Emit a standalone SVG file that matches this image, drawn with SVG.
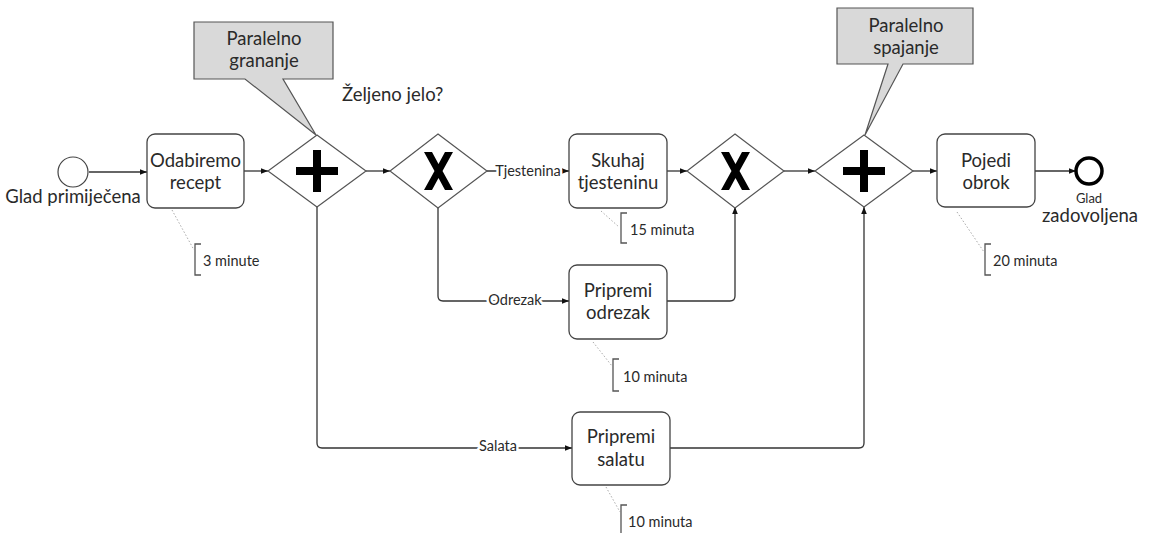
<svg xmlns="http://www.w3.org/2000/svg" width="1149" height="533" viewBox="0 0 1149 533">
<style>
text{font-family:Lato,"Open Sans",sans-serif;fill:#2a2a2a;}
.t{font-size:18.5px;text-anchor:middle;}
.s{font-size:14.5px;}
.lbl{font-size:14.5px;text-anchor:middle;stroke:#fff;stroke-width:5;paint-order:stroke;stroke-linejoin:round;}
.task{fill:#fff;stroke:#444;stroke-width:1.3;}
.gw{fill:#fff;stroke:#555;stroke-width:1.2;}
.mk{fill:#000;stroke:none;}
.call{fill:#d9d9d9;stroke:#555;stroke-width:1.2;}
.flow{fill:none;stroke:#333;stroke-width:1.3;}
.assoc{fill:none;stroke:#aaa;stroke-width:1;stroke-dasharray:1.5 2;}
.br{fill:none;stroke:#555;stroke-width:1.3;}
</style>
<defs>
<marker id="arr" viewBox="0 0 10 10" refX="10" refY="5" markerWidth="7" markerHeight="7" markerUnits="userSpaceOnUse" orient="auto">
<path d="M0,1 L10,5 L0,9 Z" fill="#111"/>
</marker>
</defs>

<g id="connectors">
<path class="flow" d="M89,172 H147" marker-end="url(#arr)"/>
<path class="flow" d="M244,171 H268" marker-end="url(#arr)"/>
<path class="flow" d="M366,171 H390" marker-end="url(#arr)"/>
<path class="flow" d="M487,171 H569" marker-end="url(#arr)"/>
<path class="flow" d="M667,171 H687" marker-end="url(#arr)"/>
<path class="flow" d="M784,171 H815" marker-end="url(#arr)"/>
<path class="flow" d="M913,171 H937" marker-end="url(#arr)"/>
<path class="flow" d="M1035,171 H1076" marker-end="url(#arr)"/>
<path class="flow" d="M438,207 V296 Q438,301 443,301 H569" marker-end="url(#arr)"/>
<path class="flow" d="M667,301 H730 Q735,301 735,296 V207" marker-end="url(#arr)"/>
<path class="flow" d="M317,207 V443 Q317,448 322,448 H572" marker-end="url(#arr)"/>
<path class="flow" d="M670,448 H859 Q864,448 864,443 V207" marker-end="url(#arr)"/>
<text class="lbl" x="528" y="176">Tjestenina</text>
<text class="lbl" x="515" y="305">Odrezak</text>
<text class="lbl" x="498" y="451">Salata</text>
<path class="assoc" d="M172,210 L194,250"/>
<path class="assoc" d="M601,211 L619,227"/>
<path class="assoc" d="M593,342 L612,366"/>
<path class="assoc" d="M606,487 L620,512"/>
<path class="assoc" d="M957,212 L984,252"/>
</g>

<g id="start">
<circle cx="73" cy="172" r="15" fill="#fff" stroke="#444" stroke-width="1.2"/>
<text class="t" x="73" y="203">Glad primiječena</text>
</g>

<g id="odabiremo">
<rect class="task" x="147" y="134" width="97" height="74" rx="8"/>
<text class="t" x="195.5" y="167">Odabiremo</text>
<text class="t" x="195.5" y="189">recept</text>
</g>

<g id="pg1">
<polygon class="gw" points="317,135 366,171 317,207 268,171"/>
<rect class="mk" x="296" y="167" width="42" height="8"/>
<rect class="mk" x="313" y="150" width="8" height="42"/>
</g>

<g id="callout1">
<path class="call" d="M194,22 H333 V79 H283 L316,135 L245,79 H194 Z"/>
<text class="t" x="264" y="45">Paralelno</text>
<text class="t" x="264" y="67">grananje</text>
</g>

<g id="xor1">
<polygon class="gw" points="438,134 487,171 438,208 390,171"/>
<polygon class="mk" points="424,152 432,152 438.5,164 445,152 453,152 442.5,171 453,190 445,190 438.5,178 432,190 424,190 434.5,171"/>
<text class="t" x="342" y="101" style="text-anchor:start">Željeno jelo?</text>
</g>

<g id="skuhaj">
<rect class="task" x="569" y="134" width="98" height="74" rx="8"/>
<text class="t" x="618" y="167">Skuhaj</text>
<text class="t" x="618" y="189">tjesteninu</text>
</g>

<g id="xor2">
<polygon class="gw" points="735,134 784,171 735,208 687,171"/>
<polygon class="mk" points="721,152 729,152 735.5,164 742,152 750,152 739.5,171 750,190 742,190 735.5,178 729,190 721,190 731.5,171"/>
</g>

<g id="odrezak">
<rect class="task" x="569" y="265" width="98" height="74" rx="8"/>
<text class="t" x="618" y="297">Pripremi</text>
<text class="t" x="618" y="319">odrezak</text>
</g>

<g id="salatu">
<rect class="task" x="572" y="412" width="98" height="73" rx="8"/>
<text class="t" x="621" y="443">Pripremi</text>
<text class="t" x="621" y="466">salatu</text>
</g>

<g id="pg2">
<polygon class="gw" points="864,135 913,171 864,207 815,171"/>
<rect class="mk" x="843" y="167" width="42" height="8"/>
<rect class="mk" x="860" y="150" width="8" height="42"/>
</g>

<g id="callout2">
<path class="call" d="M837,8 H973 V64 H903 L865,135 L888,64 H837 Z"/>
<text class="t" x="906" y="32">Paralelno</text>
<text class="t" x="906" y="54">spajanje</text>
</g>

<g id="pojedi">
<rect class="task" x="937" y="134" width="98" height="73" rx="8"/>
<text class="t" x="986" y="167">Pojedi</text>
<text class="t" x="986" y="189">obrok</text>
</g>

<g id="end">
<circle cx="1089" cy="171" r="13" fill="#fff" stroke="#000" stroke-width="3.5"/>
<text x="1089" y="203" style="font-size:13px;text-anchor:middle">Glad</text>
<text class="t" x="1090" y="222">zadovoljena</text>
</g>

<g id="ann1">
<path class="br" d="M201,244 H195 V275 H201"/>
<text class="s" x="203" y="266">3 minute</text>
</g>
<g id="ann2">
<path class="br" d="M627,213 H621 V243 H627"/>
<text class="s" x="630" y="235">15 minuta</text>
</g>
<g id="ann3">
<path class="br" d="M619,359 H613 V391 H619"/>
<text class="s" x="623" y="382">10 minuta</text>
</g>
<g id="ann4">
<path class="br" d="M627,505 H621 V536 H627"/>
<text class="s" x="628" y="527">10 minuta</text>
</g>
<g id="ann5">
<path class="br" d="M991,244 H985 V275 H991"/>
<text class="s" x="993" y="266">20 minuta</text>
</g>
</svg>
